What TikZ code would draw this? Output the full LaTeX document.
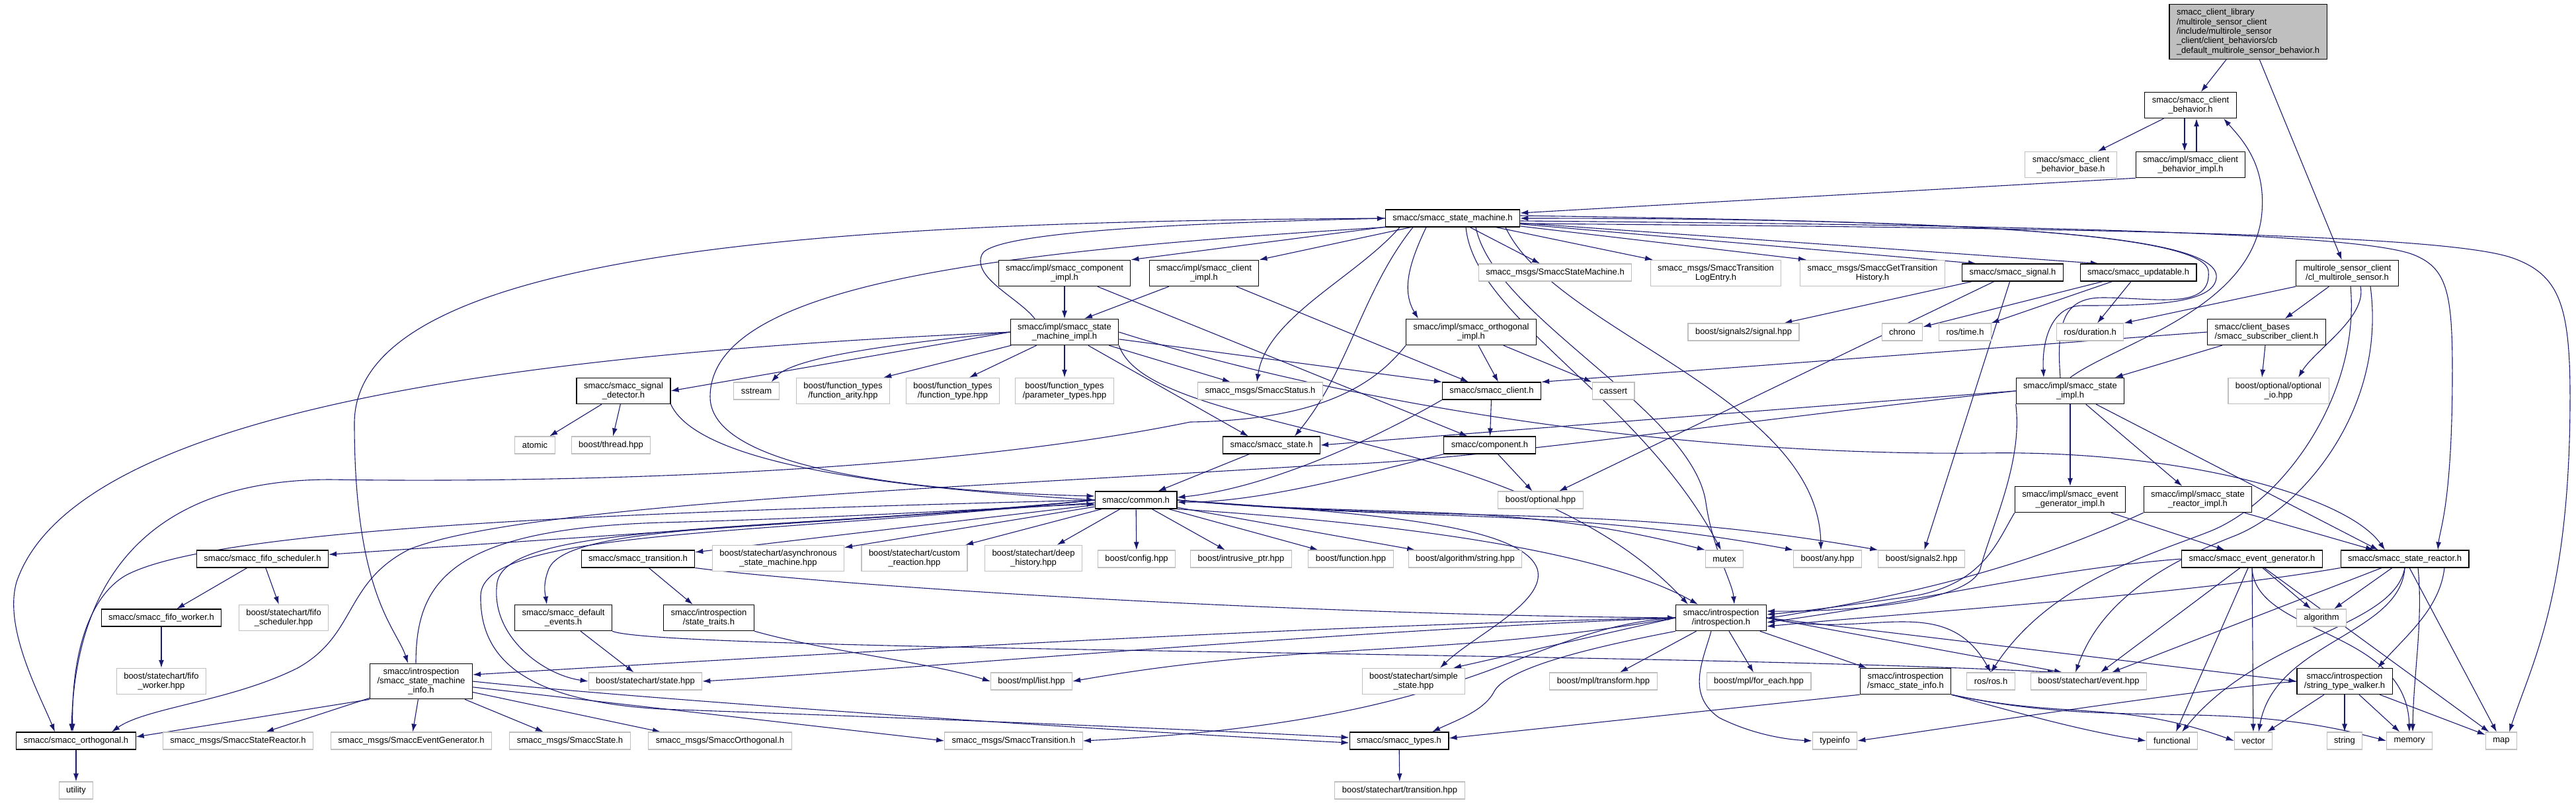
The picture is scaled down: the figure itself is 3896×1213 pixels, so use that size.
\documentclass[tikz,border=0pt]{standalone}
\usepackage{fontspec}
\setmainfont{Liberation Sans}
\usetikzlibrary{arrows.meta,backgrounds}

\definecolor{incblue}{HTML}{191970}
\definecolor{grey75}{HTML}{BFBFBF}

\tikzset{
  hdr/.style={draw=black, line width=1.1pt, fill=white, minimum height=26pt,
    inner xsep=11pt, inner ysep=6.5pt, align=center,
    font=\fontsize{13}{14.3}\selectfont},
  ext/.style={hdr, draw=grey75},
  root/.style={hdr, fill=grey75, align=left},
  inc/.style={draw=incblue, line width=1.1pt, -{Latex[length=12pt,width=8pt]}},
}

\begin{document}
\begin{tikzpicture}[x=1pt,y=1pt]
\useasboundingbox (0,0) rectangle (3896,-1213);

% Headers, row by row:
\node[root] (cb) at (3400,-48) {smacc\_client\_library\\/multirole\_sensor\_client\\/include/multirole\_sensor\\\_client/client\_behaviors/cb\\\_default\_multirole\_sensor\_behavior.h};
\node[hdr] (behavior) at (3313,-159) {smacc/smacc\_client\\\_behavior.h};
\node[ext] (bbase) at (3132,-249) {smacc/smacc\_client\\\_behavior\_base.h};
\node[hdr] (bimpl) at (3313,-249) {smacc/impl/smacc\_client\\\_behavior\_impl.h};
\node[hdr] (sm) at (2197,-330) {smacc/smacc\_state\_machine.h};

\node[hdr] (compimpl) at (1610,-413) {smacc/impl/smacc\_component\\\_impl.h};
\node[hdr] (climpl) at (1821,-413) {smacc/impl/smacc\_client\\\_impl.h};
\node[ext] (msgsm) at (2352,-412) {smacc\_msgs/SmaccStateMachine.h};
\node[ext] (msglog) at (2595,-413) {smacc\_msgs/SmaccTransition\\LogEntry.h};
\node[ext] (msghist) at (2832,-413) {smacc\_msgs/SmaccGetTransition\\History.h};
\node[hdr] (signal) at (3044,-412) {smacc/smacc\_signal.h};
\node[hdr] (updatable) at (3234,-412) {smacc/smacc\_updatable.h};
\node[hdr] (multirole) at (3550,-413) {multirole\_sensor\_client\\/cl\_multirole\_sensor.h};

\node[hdr] (smimpl) at (1610,-502) {smacc/impl/smacc\_state\\\_machine\_impl.h};
\node[hdr] (orthimpl) at (2225,-502) {smacc/impl/smacc\_orthogonal\\\_impl.h};
\node[ext] (signalhpp) at (2637,-502) {boost/signals2/signal.hpp};
\node[ext] (chrono) at (2877,-502) {chrono};
\node[ext] (rostime) at (2972,-502) {ros/time.h};
\node[ext] (rosdur) at (3161,-502) {ros/duration.h};
\node[hdr, align=left] (subclient) at (3428,-502) {smacc/client\_bases\\/smacc\_subscriber\_client.h};

\node[hdr] (sigdet) at (943,-591) {smacc/smacc\_signal\\\_detector.h};
\node[ext] (sstream) at (1144,-591) {sstream};
\node[ext] (farity) at (1275,-591) {boost/function\_types\\/function\_arity.hpp};
\node[ext] (ftype) at (1441,-591) {boost/function\_types\\/function\_type.hpp};
\node[ext] (ptypes) at (1610,-591) {boost/function\_types\\/parameter\_types.hpp};
\node[ext] (msgstatus) at (1906,-591) {smacc\_msgs/SmaccStatus.h};
\node[hdr] (client) at (2256,-591) {smacc/smacc\_client.h};
\node[ext] (cassert) at (2440,-591) {cassert};
\node[hdr] (stateimpl) at (3131,-591) {smacc/impl/smacc\_state\\\_impl.h};
\node[ext] (optio) at (3446,-591) {boost/optional/optional\\\_io.hpp};

\node[ext] (atomic) at (809,-673) {atomic};
\node[ext] (thread) at (924,-673) {boost/thread.hpp};
\node[hdr] (state) at (1923,-673) {smacc/smacc\_state.h};
\node[hdr] (component) at (2253,-673) {smacc/component.h};

\node[hdr] (common) at (1718,-756) {smacc/common.h};
\node[ext] (optional) at (2330,-756) {boost/optional.hpp};
\node[hdr] (evgenimpl) at (3131,-755) {smacc/impl/smacc\_event\\\_generator\_impl.h};
\node[hdr] (srimpl) at (3324,-755) {smacc/impl/smacc\_state\\\_reactor\_impl.h};

\node[hdr] (fifosched) at (397,-845) {smacc/smacc\_fifo\_scheduler.h};
\node[hdr] (transition) at (965,-845) {smacc/smacc\_transition.h};
\node[ext] (async) at (1177,-844) {boost/statechart/asynchronous\\\_state\_machine.hpp};
\node[ext] (custom) at (1383,-844) {boost/statechart/custom\\\_reaction.hpp};
\node[ext] (deep) at (1563,-844) {boost/statechart/deep\\\_history.hpp};
\node[ext] (config) at (1719,-845) {boost/config.hpp};
\node[ext] (intrusive) at (1877,-845) {boost/intrusive\_ptr.hpp};
\node[ext] (function) at (2043,-845) {boost/function.hpp};
\node[ext] (algostr) at (2216,-845) {boost/algorithm/string.hpp};
\node[ext] (mutex) at (2608,-845) {mutex};
\node[ext] (any) at (2764,-845) {boost/any.hpp};
\node[ext] (signals2) at (2906,-845) {boost/signals2.hpp};
\node[hdr] (evgen) at (3406,-845) {smacc/smacc\_event\_generator.h};
\node[hdr] (sreactor) at (3637,-845) {smacc/smacc\_state\_reactor.h};

\node[hdr] (fifoworker) at (244,-934) {smacc/smacc\_fifo\_worker.h};
\node[ext] (fifoschedhpp) at (429,-934) {boost/statechart/fifo\\\_scheduler.hpp};
\node[hdr] (defevents) at (852,-934) {smacc/smacc\_default\\\_events.h};
\node[hdr] (traits) at (1072,-934) {smacc/introspection\\/state\_traits.h};
\node[hdr] (intro) at (2603,-934) {smacc/introspection\\/introspection.h};
\node[ext] (algorithm) at (3511,-934) {algorithm};

\node[ext] (fifoworkerhpp) at (244,-1030) {boost/statechart/fifo\\\_worker.hpp};
\node[hdr] (sminfo) at (637,-1030) {smacc/introspection\\/smacc\_state\_machine\\\_info.h};
\node[ext] (statehpp) at (976,-1030) {boost/statechart/state.hpp};
\node[ext] (mpllist) at (1560,-1030) {boost/mpl/list.hpp};
\node[ext] (simplestate) at (2138,-1030) {boost/statechart/simple\\\_state.hpp};
\node[ext] (mpltransform) at (2425,-1030) {boost/mpl/transform.hpp};
\node[ext] (mplforeach) at (2660,-1030) {boost/mpl/for\_each.hpp};
\node[hdr] (stateinfo) at (2882,-1030) {smacc/introspection\\/smacc\_state\_info.h};
\node[ext] (rosh) at (3011,-1030) {ros/ros.h};
\node[ext] (eventhpp) at (3159,-1030) {boost/statechart/event.hpp};
\node[hdr] (walker) at (3546,-1030) {smacc/introspection\\/string\_type\_walker.h};

\node[hdr] (orthogonal) at (115,-1120) {smacc/smacc\_orthogonal.h};
\node[ext] (msgsr) at (360,-1120) {smacc\_msgs/SmaccStateReactor.h};
\node[ext] (msgeg) at (622,-1120) {smacc\_msgs/SmaccEventGenerator.h};
\node[ext] (msgstate) at (862,-1120) {smacc\_msgs/SmaccState.h};
\node[ext] (msgorth) at (1089,-1120) {smacc\_msgs/SmaccOrthogonal.h};
\node[ext] (msgtrans) at (1533,-1120) {smacc\_msgs/SmaccTransition.h};
\node[hdr] (types) at (2116,-1120) {smacc/smacc\_types.h};
\node[ext] (typeinfo) at (2775,-1120) {typeinfo};
\node[ext] (functional) at (3285,-1120) {functional};
\node[ext] (vector) at (3408,-1120) {vector};
\node[ext] (string) at (3546,-1120) {string};
\node[ext] (memory) at (3644,-1120) {memory};
\node[ext] (map) at (3783,-1120) {map};

\node[ext] (utility) at (115,-1195) {utility};
\node[ext] (transhpp) at (2117,-1195) {boost/statechart/transition.hpp};

\begin{scope}[on background layer]
% client behavior part
\draw[inc] (cb) -- (behavior);
\draw[inc] (cb) -- (multirole);
\draw[inc] (behavior) -- (bbase);
\draw[inc] ([xshift=-9]behavior.south) -- ([xshift=-9]bimpl.north);
\draw[inc] ([xshift=9]bimpl.north) -- ([xshift=9]behavior.south);
\draw[inc] (bimpl.south west) -- ([yshift=8]sm.east);
\draw[inc] (stateimpl.north) .. controls (3200,-520) and (3400,-470) .. (3420,-330) .. controls (3430,-250) and (3390,-210) .. ([xshift=50]behavior.south);

% multirole sensor client
\draw[inc] (multirole) -- (subclient);
\draw[inc] ([xshift=20]multirole.south) .. controls (3580,-480) and (3500,-530) .. ([xshift=30]optio.north);
\draw[inc] (multirole.south west) -- (rosdur.north east);
\draw[inc] ([xshift=5]multirole.south) .. controls (3570,-600) and (3450,-760) .. (3343,-803) .. controls (3250,-840) and (3100,-880) .. (rosh.north);
\draw[inc] ([xshift=35]multirole.south) .. controls (3610,-620) and (3480,-770) .. (3380,-810) .. controls (3290,-845) and (3180,-900) .. ([xshift=-20]eventhpp.north);
\draw[inc] (subclient.west) -- (client.north east);
\draw[inc] (subclient) -- (stateimpl);
\draw[inc] (subclient) -- ([xshift=-25]optio.north);

% state machine
\draw[inc] (sm) -- (compimpl.north east);
\draw[inc] (sm) -- (climpl.north east);
\draw[inc] (sm) -- ([xshift=-23]msgsm.north);
\draw[inc] (sm) -- ([xshift=-95]msglog.north);
\draw[inc] (sm) -- ([xshift=-100]msghist.north);
\draw[inc] (sm) -- ([xshift=-55]signal.north);
\draw[inc] (sm) -- ([xshift=-60]updatable.north);
\draw[inc] ([xshift=-40]sm.south) .. controls (2130,-400) and (2120,-440) .. ([xshift=-80]orthimpl.north);
\draw[inc] ([xshift=-80]sm.south) .. controls (2050,-420) and (1915,-480) .. ([xshift=-5]msgstatus.north);
\draw[inc] ([xshift=-60]sm.south) .. controls (2060,-440) and (2040,-560) .. ([xshift=35]state.north);
\draw[inc] (sm.south west) .. controls (1500,-380) and (1074,-430) .. (1074,-600) .. controls (1074,-720) and (1450,-745) .. ([yshift=6]common.west);
\draw[inc] (sm.west) .. controls (1300,-335) and (536,-370) .. (536,-640) .. controls (536,-900) and (600,-950) .. ([xshift=-20]sminfo.north);
\draw[inc] ([xshift=20]sm.south) .. controls (2230,-480) and (2480,-600) .. ([xshift=-5]mutex.north);
\draw[inc] ([xshift=35]sm.south) .. controls (2260,-480) and (2560,-620) .. (2580,-760) .. controls (2590,-830) and (2620,-880) .. ([xshift=20]intro.north);
\draw[inc] ([xshift=80]sm.south) .. controls (2350,-500) and (2750,-600) .. ([xshift=-10]any.north);
\draw[inc] ([yshift=-4]sm.east) .. controls (3000,-340) and (3560,-350) .. (3650,-385) .. controls (3700,-405) and (3709,-440) .. (3709,-560) .. controls (3709,-760) and (3690,-800) .. ([xshift=50]sreactor.north);
\draw[inc] ([yshift=-8]sm.east) .. controls (3200,-345) and (3700,-355) .. (3800,-390) .. controls (3870,-415) and (3887,-460) .. (3887,-600) .. controls (3887,-900) and (3830,-1000) .. ([xshift=12]map.north);
\draw[inc] ([yshift=4]sm.east) .. controls (2900,-335) and (3360,-345) .. (3352,-420) .. controls (3348,-460) and (3250,-462) .. (3150,-462) .. controls (3100,-462) and (3088,-520) .. ([xshift=-40]stateimpl.north);
\draw[inc] ([xshift=-15]stateimpl.north) .. controls (3110,-490) and (3120,-450) .. (3180,-450) .. controls (3260,-450) and (3345,-470) .. (3340,-410) .. controls (3335,-350) and (2900,-330) .. (sm.east);

% state machine impl
\draw[inc] (compimpl) -- (smimpl);
\draw[inc] (climpl) -- ([xshift=30]smimpl.north);
\draw[inc] (compimpl) -- (component);
\draw[inc] (climpl) -- ([xshift=-35]client.north);
\draw[inc] ([xshift=-45]smimpl.north) .. controls (1540,-450) and (1470,-420) .. (1485,-385) .. controls (1500,-345) and (1900,-335) .. (sm.west);
\draw[inc] (smimpl.west) -- (sigdet.east);
\draw[inc] (smimpl.west) .. controls (1350,-520) and (1200,-540) .. ([xshift=-12]sstream.north east);
\draw[inc] (smimpl) -- ([xshift=-10]farity.north east);
\draw[inc] (smimpl) -- ([xshift=25]ftype.north);
\draw[inc] (smimpl) -- (ptypes);
\draw[inc] (smimpl) -- ([xshift=-45]msgstatus.north);
\draw[inc] (smimpl) -- (client.north west);
\draw[inc] (smimpl) -- ([xshift=-35]state.north);
\draw[inc] (smimpl.south east) .. controls (1740,-660) and (2300,-640) .. ([xshift=-50]intro.north);
\draw[inc] (smimpl.east) .. controls (2000,-600) and (2500,-690) .. (3000,-685) .. controls (3300,-680) and (3550,-750) .. ([xshift=-30]sreactor.north);
\draw[inc] (smimpl.west) .. controls (900,-530) and (120,-600) .. (25,-880) .. controls (5,-950) and (60,-1050) .. ([xshift=-32]orthogonal.north);

% orthogonal impl, signal, updatable
\draw[inc] (orthimpl) -- ([xshift=10]client.north);
\draw[inc] (orthimpl) -- (cassert);
\draw[inc] (orthimpl.south west) .. controls (2080,-580) and (2000,-635) .. (1800,-638) .. controls (1400,-720) and (800,-730) .. (500,-725) .. controls (250,-725) and (115,-850) .. ([xshift=-7]orthogonal.north);
\draw[inc] (signal) -- (signalhpp);
\draw[inc] (signal) -- (optional);
\draw[inc] (signal) -- (signals2);
\draw[inc] (updatable) -- (chrono);
\draw[inc] (updatable) -- (rostime);
\draw[inc] (updatable) -- (rosdur);

% signal detector, client, state, component
\draw[inc] (sigdet) -- (atomic);
\draw[inc] (sigdet) -- (thread);
\draw[inc] (sigdet.south east) .. controls (1060,-710) and (1400,-740) .. (common.west);
\draw[inc] (client) -- (component);
\draw[inc] (client.south west) .. controls (2050,-680) and (1900,-740) .. ([yshift=4]common.east);
\draw[inc] (component.south west) .. controls (2050,-720) and (1900,-760) .. ([yshift=-3]common.east);
\draw[inc] (state) -- (common);
\draw[inc] (component) -- (optional);

% state impl
\draw[inc] (stateimpl.west) -- (state.east);
\draw[inc] (stateimpl) -- (evgenimpl);
\draw[inc] (stateimpl) -- (srimpl);
\draw[inc] (stateimpl) -- ([xshift=-40]sreactor.north);
\draw[inc] (stateimpl.south west) .. controls (3060,-700) and (3010,-800) .. (2995,-860) .. controls (2980,-910) and (2800,-925) .. ([yshift=10]intro.east);
\draw[inc] (stateimpl.west) .. controls (2600,-640) and (2200,-700) .. (2000,-703) .. controls (1500,-735) and (800,-760) .. (620,-830) .. controls (520,-880) and (540,-960) .. (450,-1010) .. controls (350,-1060) and (220,-1070) .. ([xshift=54]orthogonal.north);

% event generator and state reactor
\draw[inc] (evgenimpl) -- (evgen);
\draw[inc] (evgenimpl.south west) .. controls (3020,-820) and (3000,-880) .. (2900,-900) .. controls (2800,-915) and (2720,-925) .. ([yshift=5]intro.east);
\draw[inc] (srimpl) -- (sreactor);
\draw[inc] (srimpl.south west) .. controls (3100,-840) and (2950,-890) .. ([yshift=-1]intro.east);
\draw[inc] (evgen.west) .. controls (3100,-860) and (2900,-910) .. ([yshift=-7]intro.east);
\draw[inc] (evgen) -- (algorithm);
\draw[inc] (evgen) -- (functional);
\draw[inc] (evgen) -- (vector);
\draw[inc] (evgen.south) .. controls (3410,-960) and (3640,-950) .. (memory.north);
\draw[inc] (evgen) -- (map);
\draw[inc] (evgen) -- (eventhpp);
\draw[inc] (sreactor.south west) .. controls (3300,-900) and (2900,-925) .. ([yshift=-13]intro.east);
\draw[inc] (sreactor) -- (algorithm);
\draw[inc] (sreactor.south) .. controls (3620,-950) and (3420,-960) .. ([xshift=15]functional.north);
\draw[inc] (sreactor.south) .. controls (3630,-960) and (3440,-970) .. ([xshift=8]vector.north);
\draw[inc] ([xshift=20]sreactor.south) .. controls (3665,-940) and (3650,-1020) .. ([xshift=5]memory.north);
\draw[inc] (sreactor) -- (map);
\draw[inc] (sreactor) -- (eventhpp);
\draw[inc] ([xshift=60]sreactor.south) .. controls (3690,-920) and (3640,-960) .. ([xshift=50]walker.north);

% common
\draw[inc] (common) -- (fifosched);
\draw[inc] (common) -- (transition);
\draw[inc] (common) -- (async);
\draw[inc] (common) -- (custom);
\draw[inc] (common) -- (deep);
\draw[inc] (common) -- (config);
\draw[inc] (common) -- (intrusive);
\draw[inc] (common) -- (function);
\draw[inc] (common) -- (algostr);
\draw[inc] (common.east) .. controls (2100,-785) and (2280,-755) .. (mutex.north west);
\draw[inc] (common.east) .. controls (2150,-790) and (2350,-765) .. (any.north west);
\draw[inc] (common.east) .. controls (2195,-792) and (2431,-760) .. (signals2.north west);
\draw[inc] (common.south east) .. controls (2100,-790) and (2420,-830) .. ([xshift=-35]intro.north);
\draw[inc] (common.east) .. controls (2050,-775) and (2300,-790) .. (2325,-860) .. controls (2340,-910) and (2230,-960) .. ([xshift=40]simplestate.north);
\draw[inc] (common.west) .. controls (1200,-800) and (860,-790) .. (830,-860) .. controls (820,-885) and (825,-900) .. ([xshift=-25]defevents.north);
\draw[inc] (common.west) .. controls (1150,-805) and (770,-790) .. (752,-880) .. controls (740,-960) and (820,-1020) .. (statehpp.west);
\draw[inc] (common.west) .. controls (1150,-810) and (730,-800) .. (727,-900) .. controls (725,-1000) and (800,-1060) .. (1000,-1072) .. controls (1500,-1090) and (1850,-1105) .. ([yshift=5]types.west);
\draw[inc] (common.west) .. controls (900,-775) and (320,-800) .. (190,-870) .. controls (130,-905) and (108,-1000) .. ([xshift=-5]orthogonal.north);

% fifo scheduler, transition, default events
\draw[inc] (fifosched) -- (fifoworker);
\draw[inc] (fifosched) -- (fifoschedhpp);
\draw[inc] (fifoworker) -- (fifoworkerhpp);
\draw[inc] (transition) -- (traits);
\draw[inc] (transition.south east) .. controls (1300,-890) and (2000,-930) .. (intro.west);
\draw[inc] (traits.south east) .. controls (1250,-985) and (1400,-1000) .. (mpllist.west);
\draw[inc] (defevents) -- (statehpp);
\draw[inc] (defevents.south east) .. controls (1000,-985) and (2500,-985) .. ([xshift=-50]eventhpp.north);

% introspection
\draw[inc] (intro.west) .. controls (2000,-945) and (1300,-985) .. ([yshift=10]sminfo.east);
\draw[inc] (intro.west) .. controls (2000,-955) and (1400,-1010) .. (statehpp.east);
\draw[inc] (intro.west) .. controls (2180,-996) and (1975,-968) .. (mpllist.east);
\draw[inc] (intro.west) -- ([xshift=60]simplestate.north);
\draw[inc] (intro) -- (mpltransform);
\draw[inc] (intro) -- (mplforeach);
\draw[inc] (intro) -- (stateinfo);
\draw[inc] (intro.east) .. controls (2820,-970) and (2940,-890) .. (rosh.north);
\draw[inc] (intro.east) -- ([xshift=-40]eventhpp.north);
\draw[inc] (intro.east) -- (walker.west);
\draw[inc] (intro.south west) .. controls (2400,-980) and (2280,-1010) .. (2260,-1045) .. controls (2245,-1075) and (2200,-1090) .. ([xshift=50]types.north);
\draw[inc] ([xshift=-15]intro.south) .. controls (2575,-1000) and (2550,-1050) .. (2600,-1085) .. controls (2650,-1110) and (2700,-1118) .. (typeinfo.west);
\draw[inc] (intro.west) .. controls (2300,-950) and (2250,-1090) .. (msgtrans.east);

% state machine info
\draw[inc] ([xshift=-8]sminfo.north) .. controls (629,-880) and (680,-800) .. (1000,-790) .. controls (1300,-782) and (1500,-768) .. ([yshift=-6]common.west);
\draw[inc] (sminfo.south west) -- ([yshift=6]orthogonal.east);
\draw[inc] (sminfo) -- ([xshift=42]msgsr.north);
\draw[inc] (sminfo) -- (msgeg);
\draw[inc] (sminfo) -- ([xshift=-40]msgstate.north);
\draw[inc] (sminfo) -- ([xshift=-90]msgorth.north);
\draw[inc] (sminfo) -- (msgtrans.west);
\draw[inc] (sminfo.east) .. controls (900,-1050) and (1500,-1095) .. ([yshift=-3]types.west);

% state info, type walker, leaves
\draw[inc] (stateinfo.south west) -- ([yshift=4]types.east);
\draw[inc] (stateinfo.south east) .. controls (3060,-1080) and (3150,-1105) .. (functional.west);
\draw[inc] (stateinfo.south east) .. controls (3128,-1088) and (3209,-1058) .. (vector.west);
\draw[inc] (stateinfo.south east) .. controls (3204,-1105) and (3361,-1053) .. (memory.west);
\draw[inc] (walker.west) .. controls (3300,-1045) and (2950,-1100) .. (typeinfo.east);
\draw[inc] (walker) -- (vector);
\draw[inc] (walker) -- (string);
\draw[inc] (walker) -- (memory);
\draw[inc] (walker) -- (map);
\draw[inc] (orthogonal) -- (utility);
\draw[inc] (types) -- (transhpp);
\end{scope}
\end{tikzpicture}
\end{document}
